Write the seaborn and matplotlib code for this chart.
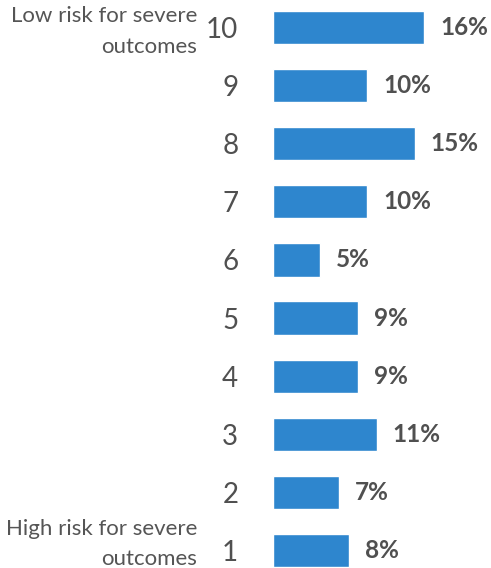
import matplotlib
matplotlib.use("Agg")
import matplotlib.pyplot as plt
import seaborn as sns
import pandas as pd

scores = ["10", "9", "8", "7", "6", "5", "4", "3", "2", "1"]
percents = [16, 10, 15, 10, 5, 9, 9, 11, 7, 8]
top_note = ["Low risk for severe", "outcomes"]
bottom_note = ["High risk for severe", "outcomes"]

sns.set_theme(style="white")
plt.rcParams['font.family'] = ['Lato', 'DejaVu Sans']

df = pd.DataFrame({"score": scores, "pct": percents})

W, H = 491, 568
fig = plt.figure(figsize=(W / 100, H / 100), dpi=100)
ax = fig.add_axes([273 / W, 0, (W - 273) / W, 1])

sns.barplot(data=df, y="score", x="pct", order=scores, orient="h",
            color="#2E86CE", saturation=1, width=0.57, ax=ax)

px_per_unit = 151 / 16
ax.set_xlim(0, (W - 273) / px_per_unit)
ax.set_ylim(9 + (568 - 550.5) / 58.1, -27.5 / 58.1)

for i, v in enumerate(percents):
    ax.text(v + 16 / px_per_unit, i, f"{v}%", va="center", ha="left",
            fontsize=17.5, fontweight="bold", color="#505050")

ax.set_xlabel("")
ax.set_ylabel("")
ax.set_xticks([])
for s in ax.spines.values():
    s.set_visible(False)
ax.tick_params(axis="y", length=0, pad=25, labelsize=20, labelcolor="#505050")

note_kw = dict(ha="right", va="baseline", fontsize=16, color="#555555")
fig.text(197 / W, 1 - 22 / H, top_note[0], **note_kw)
fig.text(197 / W, 1 - 53 / H, top_note[1], **note_kw)
fig.text(197 / W, 1 - 535 / H, bottom_note[0], **note_kw)
fig.text(197 / W, 1 - 565 / H, bottom_note[1], **note_kw)

fig.savefig("out.png", dpi=100)
